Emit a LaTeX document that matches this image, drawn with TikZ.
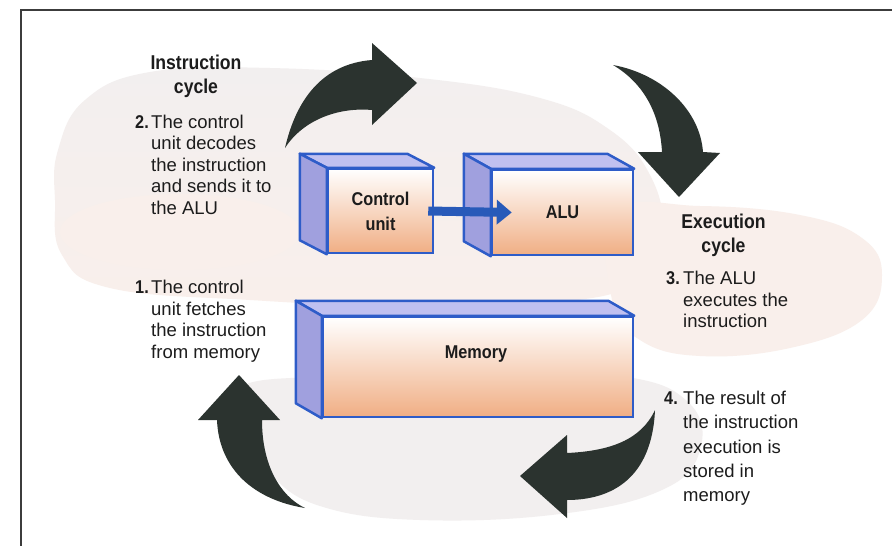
\documentclass[tikz,border=0pt]{standalone}
\usepackage{fontspec}
\setmainfont{Liberation Sans}
\newfontfamily\condsans{Liberation Sans}[FakeStretch=0.88]
\usetikzlibrary{arrows.meta,calc}

\definecolor{boxedge}{RGB}{46,92,200}
\definecolor{sideface}{RGB}{160,160,222}
\definecolor{topface}{RGB}{192,192,240}
\definecolor{peach}{RGB}{240,174,132}
\definecolor{bigarrow}{RGB}{43,51,47}
\definecolor{blobgray}{RGB}{242,239,239}
\definecolor{blobpink}{RGB}{249,239,235}
\definecolor{txt}{RGB}{28,28,28}
\definecolor{frameline}{RGB}{60,60,60}
\definecolor{linkblue}{RGB}{40,90,185}

% one column of left-aligned lines, baseline on the first line
\newcommand\steplines[1]{\begin{tabular}[t]{@{}l@{}}#1\end{tabular}}

% side and top faces of a box whose front face is node #1, depth (#2,#3)
\newcommand\drawcube[3]{%
  \filldraw[fill=topface, draw=boxedge, line width=2.5pt, line join=round]
    (#1.north west) -- (#1.north east) -- ($(#1.north east)+(-#2,-#3)$)
    -- ($(#1.north west)+(-#2,-#3)$) -- cycle;
  \filldraw[fill=sideface, draw=boxedge, line width=2.5pt, line join=round]
    (#1.north west) -- ($(#1.north west)+(-#2,-#3)$)
    -- ($(#1.south west)+(-#2,-#3)$) -- (#1.south west) -- cycle;
}

\begin{document}
\begin{tikzpicture}[x=1pt,y=-1pt,
  boxfront/.style={draw=boxedge, line width=2.5pt, top color=white,
    bottom color=peach, inner sep=0pt, align=center, text=txt,
    font=\condsans\bfseries\fontsize{18.5}{25}\selectfont},
  heading/.style={align=center, inner sep=0pt, text=txt,
    font=\condsans\bfseries\fontsize{20}{24}\selectfont},
  stepnum/.style={anchor=base east, inner sep=0pt, text=txt,
    font=\condsans\bfseries\fontsize{18.5}{21.5}\selectfont},
  steptext/.style={anchor=base west, inner sep=0pt, text=txt,
    font=\fontsize{18.5}{21.5}\selectfont},
  cyclearrow/.style={fill=bigarrow},
  link/.style={draw=linkblue, line width=9pt,
    -{Triangle[length=15pt,width=24pt]}}
]
\useasboundingbox (0,0) rectangle (892,546);
\fill[white] (0,0) rectangle (892,546);

% soft background clouds
\shade[top color=blobgray, bottom color=blobpink]
  plot[smooth cycle, tension=0.7] coordinates {
    (58,150) (85,100) (150,72) (270,68) (420,78) (540,98) (610,130)
    (650,175) (662,230) (640,280) (560,302) (400,306) (250,300)
    (110,288) (62,255) (55,200)};
\fill[blobpink]
  plot[smooth cycle, tension=0.7] coordinates {
    (615,212) (700,206) (800,215) (862,238) (882,275) (862,320)
    (790,348) (700,356) (640,340) (612,300)};
\fill[blobgray]
  plot[smooth cycle, tension=0.7] coordinates {
    (238,388) (330,376) (480,372) (620,376) (688,402) (700,450)
    (662,490) (560,514) (420,520) (320,506) (268,472) (240,432)};
\fill[blobpink] (180,232) ellipse [x radius=120, y radius=38];

% frame
\draw[frameline, line width=1.5pt] (892,10) -- (21,10) -- (21,546);

% boxes
\node[boxfront, minimum width=105pt, minimum height=84pt] (cu)
  at (380.5,211) {Control\\unit};
\drawcube{cu}{27}{14}
\node[boxfront, minimum width=141pt, minimum height=85pt] (alu)
  at (562.5,212.5) {ALU};
\drawcube{alu}{27}{15}
\node[boxfront, minimum width=310pt, minimum height=100pt] (mem)
  at (478,367) {};
\drawcube{mem}{26}{15}
\node[heading, font=\condsans\bfseries\fontsize{18.5}{25}\selectfont]
  (memtxt) at (476,354) {Memory};

\draw[link] ([xshift=-6pt]cu.east) -- ([xshift=21pt]alu.west);

% cycle arrows
\fill[cyclearrow] (285,148) .. controls (296,100) and (322,64) .. (372,60)
  -- (372,43) -- (417,83) -- (372,125) -- (372,110)
  .. controls (338,107) and (303,120) .. (285,148) -- cycle;
\fill[cyclearrow] (613,65) .. controls (662,74) and (700,110) .. (703,152)
  -- (720,153) -- (679,197) -- (638,152) -- (662,152)
  .. controls (660,115) and (645,84) .. (613,65) -- cycle;
\fill[cyclearrow] (655,410) .. controls (652,478) and (612,500) .. (567,500)
  -- (567,518) -- (520,476) -- (567,435) -- (567,453)
  .. controls (610,451) and (641,440) .. (655,410) -- cycle;
\fill[cyclearrow] (305,508) .. controls (255,500) and (219,470) .. (217,420)
  -- (198,420) -- (239,375) -- (280,420) -- (262,420)
  .. controls (262,465) and (280,496) .. (305,508) -- cycle;

% headings
\node[heading] (instr) at (196,76) {Instruction\\cycle};
\node[heading] (exec) at (723.5,235) {Execution\\cycle};

% steps
\node[stepnum] (n2) at (149,128) {2.};
\node[steptext] (s2) at (151,128)
  {\steplines{The control\\unit decodes\\the instruction\\and sends it to\\the ALU}};
\node[stepnum] (n1) at (149,293.5) {1.};
\node[steptext] (s1) at (151,293.5)
  {\steplines{The control\\unit fetches\\the instruction\\from memory}};
\node[stepnum] (n3) at (680,284.5) {3.};
\node[steptext] (s3) at (683,284.5)
  {\steplines{The ALU\\executes the\\instruction}};
\node[stepnum] (n4) at (678,404.5) {4.};
\node[steptext, font=\fontsize{18.5}{24.3}\selectfont] (s4) at (683,404.5)
  {\steplines{The result of\\the instruction\\execution is\\stored in\\memory}};
\end{tikzpicture}
\end{document}
